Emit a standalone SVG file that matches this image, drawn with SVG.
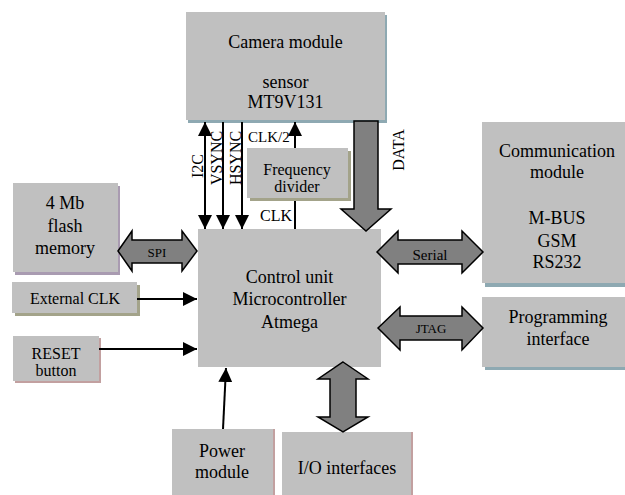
<svg xmlns="http://www.w3.org/2000/svg" width="625" height="495" viewBox="0 0 625 495">
<defs>
<style>
.box{fill:#c0c0c0}
.sb{fill:#8ea9b2}
.sp{fill:#a99bb1}
.so{fill:#a3a38a}
.sr{fill:#c2a0a0}
text{font-family:"Liberation Serif","Times New Roman",serif;fill:#000}
.t18{font-size:18px;text-anchor:middle}
.t16{font-size:16px;text-anchor:middle}
.small{font-size:13px;text-anchor:middle}
.big{fill:#808080;stroke:#000;stroke-width:1.5;stroke-linejoin:miter}
.ln{stroke:#000;stroke-width:2;fill:none}
</style>
<marker id="ah" markerUnits="userSpaceOnUse" markerWidth="14" markerHeight="14" refX="14" refY="7" orient="auto-start-reverse" viewBox="0 0 14 14">
<path d="M0,0 L14,7 L0,14 z" fill="#000"/>
</marker>
</defs>

<g id="camera">
<rect class="sb" x="188" y="15" width="199" height="108"/>
<rect class="box" x="186" y="12" width="199" height="108"/>
<text class="t18" x="285.5" y="48">Camera module</text>
<text class="t18" x="285.5" y="88">sensor</text>
<text class="t18" x="285.5" y="108">MT9V131</text>
</g>

<g id="flash">
<rect class="sp" x="15" y="186" width="105" height="89"/>
<rect class="box" x="13" y="183" width="105" height="89"/>
<text class="t18" x="65" y="209">4 Mb</text>
<text class="t18" x="65" y="232">flash</text>
<text class="t18" x="65" y="254">memory</text>
</g>

<g id="extclk">
<rect class="so" x="15" y="285" width="125" height="31"/>
<rect class="box" x="12" y="282" width="125" height="31"/>
<text class="t16" x="75" y="304">External CLK</text>
</g>

<g id="reset">
<rect class="sr" x="15" y="338" width="86" height="45"/>
<rect class="box" x="13" y="336" width="86" height="45"/>
<text class="t16" x="56" y="359">RESET</text>
<text class="t16" x="56" y="376">button</text>
</g>

<g id="control">
<rect class="box" x="198" y="229" width="183" height="138"/>
<text class="t18" x="289.5" y="283">Control unit</text>
<text class="t18" x="289.5" y="305">Microcontroller</text>
<text class="t18" x="289.5" y="328">Atmega</text>
</g>

<g id="comm">
<rect class="sb" x="485" y="126" width="142" height="161"/>
<rect class="box" x="482" y="122" width="143" height="161"/>
<text class="t18" x="557" y="157">Communication</text>
<text class="t18" x="557" y="178">module</text>
<text class="t18" x="557" y="224">M-BUS</text>
<text class="t18" x="557" y="247">GSM</text>
<text class="t18" x="557" y="268">RS232</text>
</g>

<g id="prog">
<rect class="sb" x="485" y="300" width="142" height="70"/>
<rect class="box" x="482" y="297" width="143" height="70"/>
<text class="t18" x="558" y="323">Programming</text>
<text class="t18" x="558" y="345">interface</text>
</g>

<g id="power">
<rect class="sr" x="174" y="429" width="101" height="66"/>
<rect class="box" x="172" y="429" width="101" height="66"/>
<text class="t18" x="222" y="457">Power</text>
<text class="t18" x="222" y="478">module</text>
</g>

<g id="io">
<rect class="sr" x="284" y="432" width="129" height="63"/>
<rect class="box" x="282" y="432" width="129" height="63"/>
<text class="t18" x="347" y="474">I/O interfaces</text>
</g>

<g id="connectors">
<line class="ln" x1="205" y1="122" x2="205" y2="229" marker-start="url(#ah)" marker-end="url(#ah)"/>
<line class="ln" x1="223" y1="122" x2="223" y2="229" marker-end="url(#ah)"/>
<line class="ln" x1="242" y1="122" x2="242" y2="229" marker-end="url(#ah)"/>
<line class="ln" x1="295" y1="229" x2="295" y2="122" marker-end="url(#ah)"/>
<line class="ln" x1="137" y1="299" x2="197" y2="299" marker-end="url(#ah)"/>
<line class="ln" x1="99" y1="349" x2="197" y2="349" marker-end="url(#ah)"/>
<line class="ln" x1="223" y1="429" x2="226" y2="368" marker-end="url(#ah)"/>
<polygon class="big" points="354,121 378,121 378,209 391,209 366,231 341,209 354,209"/>
<polygon class="big" points="118,251 132,231 132,240 182,240 182,231 197,251 182,271 182,263 132,263 132,271"/>
<polygon class="big" points="377,252 398,231 398,240 462,240 462,231 483,252 462,273 462,264 398,264 398,273"/>
<polygon class="big" points="378,328 400,307 400,316 462,316 462,307 483,328 462,350 462,340 400,340 400,350"/>
<polygon class="big" points="343,362 368,379 356,379 356,417 368,417 343,432 318,417 330,417 330,379 318,379"/>
<text class="small" x="157" y="257">SPI</text>
<text x="430" y="260" style="font-size:15px;text-anchor:middle">Serial</text>
<text class="small" x="431" y="333">JTAG</text>
<text style="font-size:15px" x="248" y="142">CLK/2</text>
<text style="font-size:16px" x="260" y="221">CLK</text>
<text class="t16" transform="translate(203,166) rotate(-90)">I2C</text>
<text class="t16" transform="translate(222,158) rotate(-90)">VSYNC</text>
<text class="t16" transform="translate(241,158) rotate(-90)">HSYNC</text>
<text class="t16" transform="translate(404,150) rotate(-90)">DATA</text>
</g>

<g id="freqdiv">
<rect class="so" x="250" y="151" width="101" height="50"/>
<rect class="box" x="247" y="148" width="101" height="50"/>
<text class="t16" x="297" y="175">Frequency</text>
<text class="t16" x="297" y="192">divider</text>
</g>
</svg>
